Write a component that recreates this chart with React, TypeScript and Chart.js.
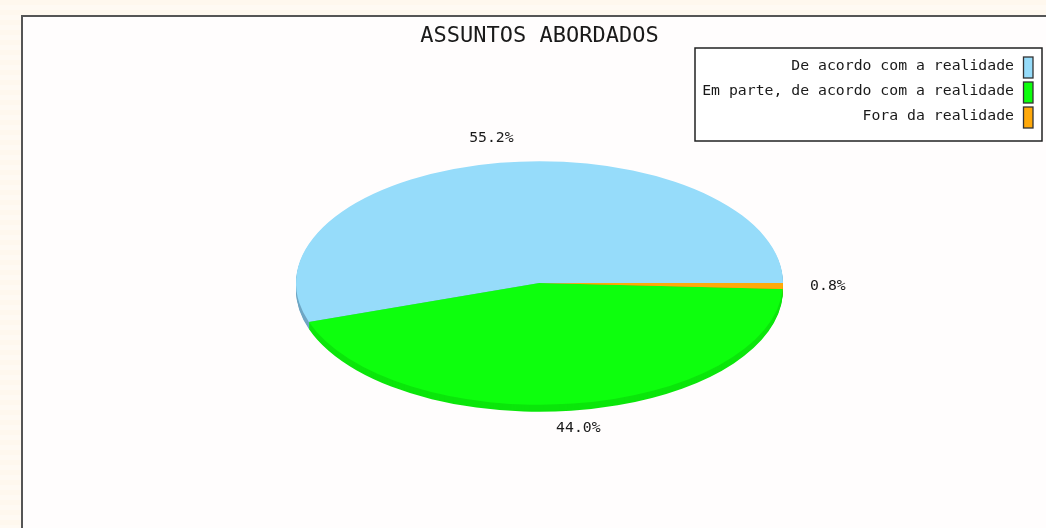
import React, { useEffect, useRef } from "react";
import { Chart, registerables } from "chart.js";

Chart.register(...registerables);

const titleText = "ASSUNTOS ABORDADOS";
const categories = [
  "De acordo com a realidade",
  "Em parte, de acordo com a realidade",
  "Fora da realidade",
];
const shares = [55.2, 44.0, 0.8];
const shareLabels = ["55.2%", "44.0%", "0.8%"];
const sliceColors = ["#96dcfa", "#0dff0d", "#ffa90a"];
const sideColors = ["#6fa6c4", "#0be60b", "#d98c00"];

const MONO = '"DejaVu Sans Mono", "Liberation Mono", monospace';
const TEXT = "#1a1a1a";
const SQUASH = 0.5;
const DEPTH = 7;

const piePlugin = {
  id: "flatPie",
  beforeDatasetsDraw(chart: any) {
    const { ctx } = chart;
    const arcs = chart.getDatasetMeta(0).data;
    for (let d = DEPTH; d >= 1; d--) {
      arcs.forEach((arc: any, i: number) => {
        ctx.save();
        ctx.translate(arc.x, arc.y + d);
        ctx.scale(1, -SQUASH);
        ctx.fillStyle = sideColors[i];
        ctx.beginPath();
        ctx.moveTo(0, 0);
        ctx.arc(0, 0, arc.outerRadius, arc.startAngle, arc.endAngle);
        ctx.closePath();
        ctx.fill();
        ctx.restore();
      });
    }
    const first = arcs[0];
    ctx.save();
    ctx.translate(first.x, first.y);
    ctx.scale(1, -SQUASH);
    ctx.translate(-first.x, -first.y);
  },
  afterDatasetsDraw(chart: any) {
    const { ctx } = chart;
    ctx.restore();
    const arcs = chart.getDatasetMeta(0).data;
    ctx.save();
    ctx.font = `14.8px ${MONO}`;
    ctx.fillStyle = TEXT;
    ctx.textAlign = "center";
    ctx.textBaseline = "middle";
    arcs.forEach((arc: any, i: number) => {
      const mid = (arc.startAngle + arc.endAngle) / 2;
      const x = arc.x + Math.cos(mid) * (arc.outerRadius + 46) - 1;
      const y = arc.y - Math.sin(mid) * (arc.outerRadius * SQUASH + 25) - 0.5;
      ctx.fillText(shareLabels[i], x, y);
    });
    ctx.restore();
  },
  afterDraw(chart: any) {
    const { ctx } = chart;
    ctx.save();
    ctx.fillStyle = "#ffffff";
    ctx.fillRect(695, 48, 347, 93);
    ctx.strokeStyle = "#222222";
    ctx.lineWidth = 1.5;
    ctx.strokeRect(695, 48, 347, 93);
    ctx.font = `14.8px ${MONO}`;
    ctx.textAlign = "right";
    ctx.textBaseline = "middle";
    categories.forEach((label, i) => {
      const y = 66 + i * 25;
      ctx.fillStyle = TEXT;
      ctx.fillText(label, 1014, y);
      ctx.fillStyle = sliceColors[i];
      ctx.fillRect(1023.5, y - 9, 9.5, 21);
      ctx.strokeStyle = "#333333";
      ctx.lineWidth = 1.3;
      ctx.strokeRect(1023.5, y - 9, 9.5, 21);
    });
    ctx.restore();
  },
};

export default function App() {
  const ref = useRef<HTMLCanvasElement | null>(null);
  useEffect(() => {
    const chart = new Chart(ref.current as HTMLCanvasElement, {
      type: "pie",
      data: {
        labels: categories,
        datasets: [
          {
            data: shares,
            backgroundColor: sliceColors,
            borderWidth: 0,
            clip: false,
          } as any,
        ],
      },
      options: {
        animation: false,
        responsive: false,
        events: [],
        rotation: 90,
        radius: 243.5,
        layout: { padding: { left: 33, right: 0, top: 0, bottom: 22 } },
        plugins: {
          legend: { display: false },
          tooltip: { enabled: false },
          title: {
            display: true,
            text: titleText,
            color: TEXT,
            font: { family: MONO, size: 22, weight: "normal", lineHeight: 1.2 },
            padding: { top: 23, bottom: 10.6 },
          },
        },
      } as any,
      plugins: [piePlugin as any],
    });
    return () => chart.destroy();
  }, []);

  return (
    <div
      style={{
        position: "fixed",
        left: 0,
        top: 0,
        width: 1046,
        height: 528,
        overflow: "hidden",
        background:
          "repeating-linear-gradient(180deg, #fff8ee 0px, #fff8ee 5px, #fffaf3 5px, #fffaf3 10px)",
      }}
    >
      <div
        style={{
          position: "absolute",
          left: 21,
          top: 15,
          width: 1025,
          height: 513,
          boxSizing: "border-box",
          background: "#fffdfd",
          borderLeft: "2px solid #555",
          borderTop: "2px solid #555",
        }}
      />
      <canvas
        ref={ref}
        width={1046}
        height={528}
        style={{ position: "absolute", left: 0, top: 0, width: 1046, height: 528 }}
      />
    </div>
  );
}
